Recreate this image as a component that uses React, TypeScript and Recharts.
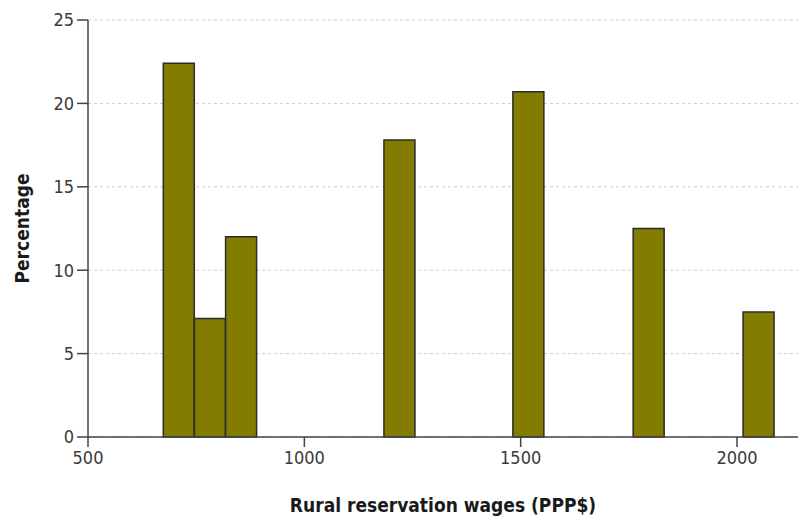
import { BarChart, Bar, XAxis, YAxis, CartesianGrid, Label } from 'recharts'

// bin centres (PPP$) and share of respondents (%)
const wageBins = [710, 782, 854, 1220, 1518, 1796, 2050]
const percentages = [22.4, 7.1, 12.0, 17.8, 20.7, 12.5, 7.5]
const xTicks = [500, 1000, 1500, 2000]
const yTicks = [0, 5, 10, 15, 20, 25]

const data = wageBins.map((wage, i) => ({ wage, pct: percentages[i] }))

const FONT = '"Liberation Sans Narrow", "DejaVu Sans Condensed", Roboto, "Liberation Sans", sans-serif'
const AXIS = '#444444'

export default function App() {
  return (
    <div style={{ position: 'absolute', left: 0, top: 0, width: 799, height: 520, background: '#fff' }}>
      <BarChart
        width={799}
        height={520}
        data={data}
        margin={{ top: 20, right: 1, bottom: 0, left: 0 }}
        barCategoryGap={0}
        barGap={0}
        style={{ fontFamily: FONT }}
      >
        <CartesianGrid vertical={false} stroke="#cccccc" strokeDasharray="3 3" />
        <XAxis
          dataKey="wage"
          type="number"
          domain={[500, 2141]}
          ticks={xTicks}
          allowDataOverflow
          height={83}
          tickSize={10}
          tickMargin={4}
          stroke={AXIS}
          strokeWidth={1.5}
          tick={{ fill: '#3a3a3a', fontSize: 18, fontFamily: FONT }}
        >
          <Label
            content={({ viewBox }: any) => (
              <text
                x={viewBox.x + viewBox.width / 2}
                y={512}
                textAnchor="middle"
                fontFamily={FONT}
                fontWeight="bold"
                fontSize={19}
                fill="#1a1a1a"
              >
                Rural reservation wages (PPP$)
              </text>
            )}
          />
        </XAxis>
        <YAxis
          type="number"
          domain={[0, 25]}
          ticks={yTicks}
          width={88}
          tickSize={11}
          tickMargin={3}
          stroke={AXIS}
          strokeWidth={1.5}
          tick={{ fill: '#3a3a3a', fontSize: 18, fontFamily: FONT }}
        >
          <Label
            content={({ viewBox }: any) => {
              const cx = 29
              const cy = viewBox.y + viewBox.height / 2
              return (
                <text
                  x={cx}
                  y={cy}
                  transform={`rotate(-90, ${cx}, ${cy})`}
                  textAnchor="middle"
                  fontFamily={FONT}
                  fontWeight="bold"
                  fontSize={19}
                  fill="#1a1a1a"
                >
                  Percentage
                </text>
              )
            }}
          />
        </YAxis>
        <Bar
          dataKey="pct"
          fill="#827c00"
          stroke="#2b2b2b"
          strokeWidth={1.5}
          isAnimationActive={false}
        />
      </BarChart>
    </div>
  )
}
